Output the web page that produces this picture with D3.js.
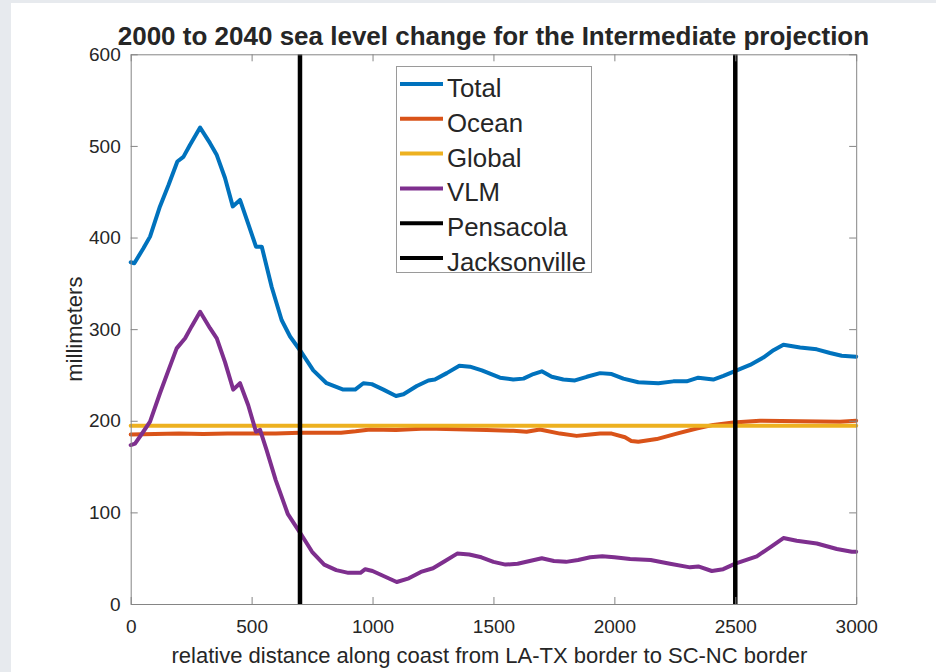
<!DOCTYPE html>
<html>
<head>
<meta charset="utf-8">
<script src="https://cdn.jsdelivr.net/npm/d3@7"></script>
<style>
  html, body { margin: 0; padding: 0; background: #e7eaee; }
  svg { display: block; }
  text { font-family: "Liberation Sans", Arial, Helvetica, sans-serif; fill: #262626; }
</style>
</head>
<body>
<svg id="chart" width="936" height="672"></svg>
<script>
// Distance along the coast (x) and sea level change in millimeters (y)
const totalDist = [0,15,52,80,121,156,193,218,245,287,328,356,390,422,452,486,518,542,583,624,659,700,755,810,879,928,962,997,1045,1097,1128,1183,1231,1258,1307,1359,1403,1452,1527,1582,1624,1665,1700,1741,1789,1837,1886,1941,1989,2037,2099,2182,2244,2299,2347,2409,2451,2506,2561,2616,2658,2699,2768,2837,2892,2940,3000];
const totalMm   = [373,372,388,401,434,457,483,488,501,520,503,490,465,434,441,415,390,390,346,310,292,277,255,241,234,234,241,240,234,227,229,238,244,245,252,260,259,255,247,245,246,251,254,248,245,244,248,252,251,246,242,241,243,243,247,245,249,255,261,269,277,283,280,278,274,271,270];

const oceanDist = [0,100,200,300,400,500,600,700,783,870,930,990,1097,1221,1389,1472,1582,1637,1692,1775,1844,1900,1941,1989,2044,2070,2099,2175,2258,2340,2409,2492,2602,2768,2933,3000];
const oceanMm   = [185,185.5,186,185.5,186,186,186,187,187,187,188.5,190.5,190,191.5,190.5,190,189,188,190.5,186,183.5,185,186,186,182,178,177,180,186,191.5,195.5,198,200,199.5,199,200];

const globalDist = [0,1000,2000,3000];
const globalMm   = [194.6,194.6,194.6,194.6];

const vlmDist = [0,18,52,80,121,156,190,225,252,287,328,356,390,424,452,486,518,535,562,600,650,700,750,800,850,900,950,970,1000,1050,1100,1150,1200,1250,1300,1350,1400,1450,1500,1550,1600,1650,1700,1750,1800,1850,1900,1950,2000,2065,2150,2230,2313,2347,2403,2450,2500,2589,2650,2699,2754,2837,2920,2982,3000];
const vlmMm   = [173.5,175,188,199,230,255,279,290,303,319,301,290,264,234,241,217,188,190,168,135,98,78,57,43,37,34,34,38,36,30,24,28,35,39,47,55,54,51,46,43,44,47,50,47,46,48,51,52,51,49,48,44,40,41,36,38,44,52,63,72,69,66,60,57,57];

const cityNames = ["Pensacola", "Jacksonville"];
const cityDist  = [700, 2500];

const seriesNames  = ["Total", "Ocean", "Global", "VLM"];
const seriesColors = ["#0072BD", "#D95319", "#EDB120", "#7E2F8E"];

const xTicks = [0, 500, 1000, 1500, 2000, 2500, 3000];
const yTicks = [0, 100, 200, 300, 400, 500, 600];

const titleText  = "2000 to 2040 sea level change for the Intermediate projection";
const xAxisLabel = "relative distance along coast from LA-TX border to SC-NC border";
const yAxisLabel = "millimeters";

const svg = d3.select("#chart");

// white figure card over the page background
svg.append("rect").attr("x", 11).attr("y", 3).attr("width", 925).attr("height", 669).attr("fill", "#ffffff");

const plotLeft = 130.7, plotRight = 856.2, plotTop = 54.3, plotBottom = 604;
const x = d3.scaleLinear().domain([0, 3000]).range([plotLeft, plotRight]);
const y = d3.scaleLinear().domain([0, 600]).range([plotBottom, plotTop]);

const zip = (ds, vs) => ds.map((d, i) => [d, vs[i]]);
const series = [
  zip(totalDist, totalMm),
  zip(oceanDist, oceanMm),
  zip(globalDist, globalMm),
  zip(vlmDist, vlmMm)
];

const line = d3.line().x(d => x(d[0])).y(d => y(d[1]));

const plot = svg.append("g");
series.forEach((s, i) => {
  plot.append("path")
    .datum(s)
    .attr("d", line)
    .attr("fill", "none")
    .attr("stroke", seriesColors[i])
    .attr("stroke-width", 4)
    .attr("stroke-linejoin", "round")
    .attr("stroke-linecap", "round");
});

cityDist.forEach(d => {
  plot.append("line")
    .attr("x1", x(d)).attr("x2", x(d))
    .attr("y1", y(0)).attr("y2", y(600))
    .attr("stroke", "#000").attr("stroke-width", 4.5);
});

// axes with inward ticks on all four sides
const axisColor = "#858585";
function styleAxis(g, showText) {
  g.selectAll(".domain").attr("stroke", axisColor).attr("stroke-width", 1);
  g.selectAll(".tick line").attr("stroke", axisColor).attr("stroke-width", 1);
  if (showText) {
    g.selectAll(".tick text").attr("font-size", 19).attr("fill", "#262626")
      .attr("font-family", "Liberation Sans, Arial, Helvetica, sans-serif");
  } else {
    g.selectAll(".tick text").remove();
  }
}

svg.append("g").attr("transform", `translate(0,${plotBottom})`)
  .call(d3.axisBottom(x).tickValues(xTicks).tickSizeInner(-7).tickSizeOuter(0).tickPadding(16).tickFormat(d3.format("d")))
  .call(g => styleAxis(g, true));
svg.append("g").attr("transform", `translate(0,${plotTop})`)
  .call(d3.axisTop(x).tickValues(xTicks).tickSizeInner(-7).tickSizeOuter(0))
  .call(g => styleAxis(g, false));
svg.append("g").attr("transform", `translate(${plotLeft},0)`)
  .call(d3.axisLeft(y).tickValues(yTicks).tickSizeInner(-7).tickSizeOuter(0).tickPadding(10).tickFormat(d3.format("d")))
  .call(g => styleAxis(g, true));
svg.append("g").attr("transform", `translate(${plotRight},0)`)
  .call(d3.axisRight(y).tickValues(yTicks).tickSizeInner(-7).tickSizeOuter(0))
  .call(g => styleAxis(g, false));

// title and axis labels
svg.append("text")
  .attr("x", (plotLeft + plotRight) / 2).attr("y", 45)
  .attr("text-anchor", "middle").attr("font-size", 26).attr("font-weight", "bold")
  .attr("fill", "#000").text(titleText);

svg.append("text")
  .attr("x", (plotLeft + plotRight) / 2 - 4).attr("y", 663)
  .attr("text-anchor", "middle").attr("font-size", 22).text(xAxisLabel);

svg.append("text")
  .attr("transform", `translate(82,${(plotTop + plotBottom) / 2}) rotate(-90)`)
  .attr("text-anchor", "middle").attr("font-size", 22).text(yAxisLabel);

// legend
const legendNames  = seriesNames.concat(cityNames);
const legendColors = seriesColors.concat(["#000", "#000"]);
const legend = svg.append("g");
legend.append("rect")
  .attr("x", 396.5).attr("y", 66.5).attr("width", 195).attr("height", 206)
  .attr("fill", "#fff").attr("stroke", "#9a9a9a").attr("stroke-width", 1);
legendNames.forEach((name, i) => {
  const cy = 84 + i * 34.8;
  legend.append("line")
    .attr("x1", 400).attr("x2", 443).attr("y1", cy).attr("y2", cy)
    .attr("stroke", legendColors[i]).attr("stroke-width", 4);
  legend.append("text")
    .attr("x", 447).attr("y", cy + 13)
    .attr("font-size", 25.8).attr("fill", "#000").text(name);
});
</script>
</body>
</html>
